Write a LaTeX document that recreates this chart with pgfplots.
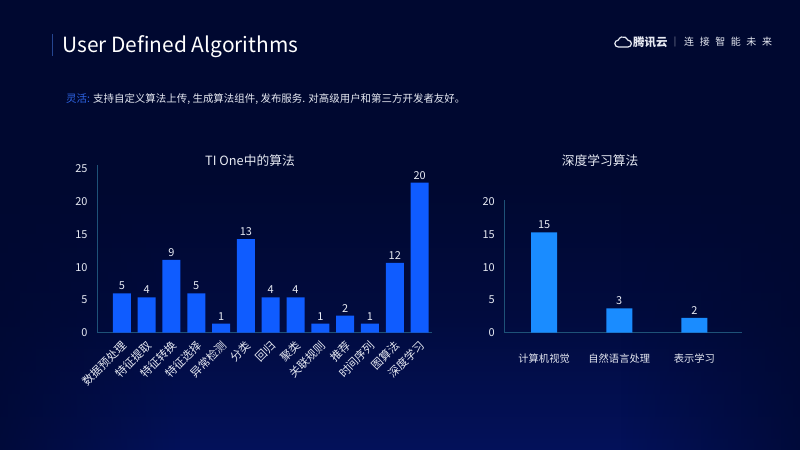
\documentclass[border=0pt]{standalone}
\usepackage{fontspec}
\setmainfont{Noto Sans CJK SC}
\usepackage{pgfplots}
\pgfplotsset{compat=1.18}
\usepackage{pgfplotstable}
\usetikzlibrary{fadings}
\definecolor{bgtop}{HTML}{000830}
\definecolor{bgmid}{HTML}{010B3E}
\definecolor{bgbot}{HTML}{03115A}
\definecolor{barA}{HTML}{0F5CFF}
\definecolor{barB}{HTML}{1A8CFF}
\definecolor{axc}{HTML}{1E5278}
\definecolor{txt}{HTML}{E6E9F2}
\definecolor{accent}{HTML}{2F66E8}
\definecolor{tline}{HTML}{25458F}
\pgfdeclareverticalshading{bgshade}{100bp}{color(0bp)=(bgbot); color(25bp)=(bgbot); color(40bp)=(bgmid); color(55bp)=(bgtop); color(100bp)=(bgtop)}

\pgfplotstableread{
x y lab
0 6.0 5
1 5.4 4
2 11.1 9
3 6.0 5
4 1.4 1
5 14.3 13
6 5.4 4
7 5.4 4
8 1.4 1
9 2.6 2
10 1.4 1
11 10.65 12
12 22.9 20
}\leftdata

\pgfplotstableread{
x y lab
0 15.3 15
1 3.7 3
2 2.25 2
}\rightdata

\pgfplotsset{
  slide/.style={
    scale only axis,
    axis x line*=bottom, axis y line*=left,
    axis line style={axc, line width=0.8bp, -},
    major tick length=0pt, tick style={draw=none},
    /pgf/number format/assume math mode=true,
    yticklabel style={text=txt, font=\fontsize{11}{12}\selectfont, xshift=-6bp},
    xticklabel style={text=txt, font=\fontsize{10.3}{12}\selectfont},
    ybar, ymin=0,
    nodes near coords, point meta=explicit symbolic,
    every node near coord/.append style={text=txt, font=\fontsize{11}{12}\selectfont},
  }
}

\begin{document}
\begin{tikzpicture}[x=1bp,y=1bp]
\useasboundingbox (0,0) rectangle (800,450);
\shade[shading=bgshade] (0,0) rectangle (800,450);
\fill[bgtop, path fading=east, opacity=0.75] (0,0) rectangle (180,450);
\fill[bgtop, path fading=west, opacity=0.75] (620,0) rectangle (800,450);

% title
\draw[tline, line width=1.2bp] (52.5,416) -- (52.5,394);
\node[anchor=base west, inner sep=0, text=white, font=\fontsize{21}{24}\selectfont] at (62,397.7) {User Defined Algorithms};
\node[anchor=west, inner sep=0, font=\fontsize{10.5}{12}\selectfont] at (66,351) {\textcolor{accent}{灵活:} \textcolor{txt}{支持自定义算法上传, 生成算法组件, 发布服务. 对高级用户和第三方开发者友好。}};

% logo
\begin{scope}[txt, line width=1.2bp]
\draw (618,403) -- (628,403) arc[start angle=-90, end angle=90, radius=3.4] arc[start angle=20, end angle=160, radius=5.2] arc[start angle=90, end angle=270, radius=3.4] -- cycle;
\end{scope}
\node[anchor=west, inner sep=0, text=txt, font=\fontsize{11.5}{13}\selectfont\bfseries] at (633,408) {腾讯云};
\node[anchor=center, inner sep=0, text=txt!60!bgtop, font=\fontsize{9}{10}\selectfont] at (675,408) {|};
\node[anchor=west, inner sep=0, text=txt, font=\fontsize{10}{12}\selectfont] at (684,408) {连\hspace{5.6bp}接\hspace{5.6bp}智\hspace{5.6bp}能\hspace{5.6bp}未\hspace{5.6bp}来};

% chart titles
\node[text=txt, font=\fontsize{12.8}{14}\selectfont] at (250,289.3) {TI One中的算法};
\node[text=txt, font=\fontsize{12.8}{14}\selectfont] at (600,289.3) {深度学习算法};

\begin{axis}[slide,
  at={(97bp,117.3bp)}, anchor=south west,
  width=335bp, height=167.7bp,
  xmin=-1, xmax=12.5, ymax=25.6,
  ytick={0,5,...,25},
  xtick={0,...,12},
  xticklabels={数据预处理,特征提取,特征转换,特征选择,异常检测,分类,回归,聚类,关联规则,推荐,时间序列,图算法,深度学习},
  xticklabel style={font=\fontsize{11.3}{12}\selectfont, yshift=-11bp, xshift=3bp, rotate=45, anchor=east, inner sep=0pt},
  bar width=18bp,
]
\addplot[fill=barA, draw=none] table[x=x, y=y, meta=lab] {\leftdata};
\end{axis}

\begin{axis}[slide,
  at={(504.3bp,117.3bp)}, anchor=south west,
  width=237.4bp, height=133bp,
  xmin=-0.53, xmax=2.63, ymax=20.3,
  ytick={0,5,...,20},
  xtick={0,1,2},
  xticklabels={计算机视觉,自然语言处理,表示学习},
  xticklabel style={yshift=-18bp},
  bar width=26bp,
]
\addplot[fill=barB, draw=none] table[x=x, y=y, meta=lab] {\rightdata};
\end{axis}
\end{tikzpicture}
\end{document}
